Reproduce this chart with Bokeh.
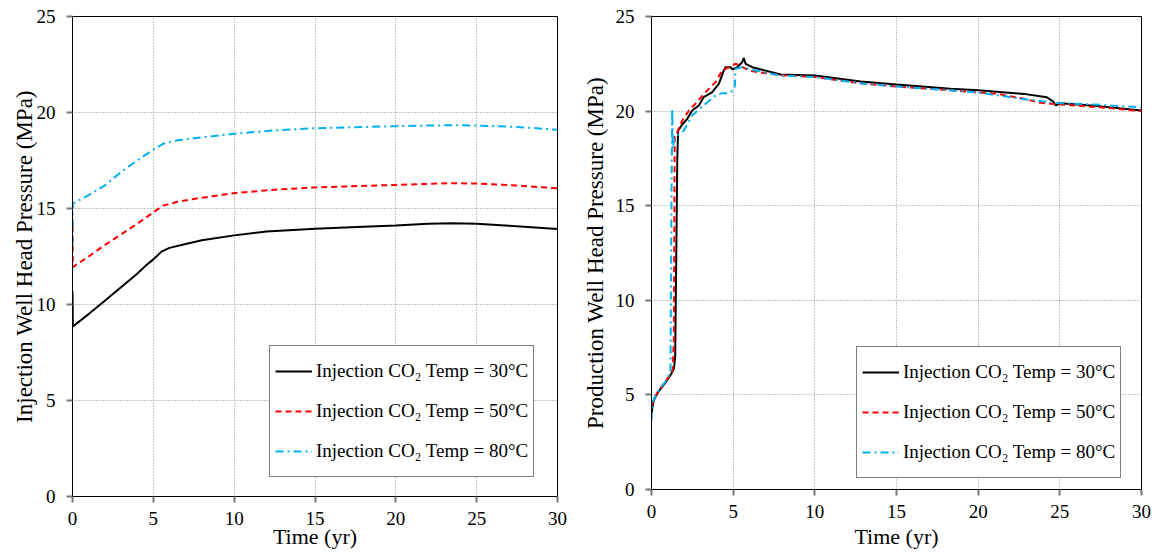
from bokeh.plotting import figure
from bokeh.layouts import row
from bokeh.models import Legend, LegendItem, FixedTicker
from bokeh.embed import file_html
from bokeh.resources import INLINE

# ---------------- data ----------------
labels = ["Injection CO₂ Temp = 30°C", "Injection CO₂ Temp = 50°C", "Injection CO₂ Temp = 80°C"]

# Injection well head pressure (left)
inj_t30 = [0, 0.02, 1, 2, 3, 4, 4.5, 5, 5.5, 6, 7, 8, 10, 12, 15, 18, 20, 22, 23.5, 25, 27, 30]
inj_p30 = [10.7, 8.85, 9.5, 10.2, 10.9, 11.6, 12.0, 12.35, 12.75, 12.95, 13.15, 13.35, 13.6, 13.8, 13.95,
           14.05, 14.12, 14.2, 14.23, 14.2, 14.1, 13.93]
inj_t50 = [0, 0.02, 1, 2, 3, 4, 5, 5.6, 6.5, 7.5, 10, 12.5, 15, 20, 23.5, 25, 27.5, 30]
inj_p50 = [14.1, 11.95, 12.5, 13.1, 13.65, 14.2, 14.8, 15.15, 15.35, 15.5, 15.8, 15.98, 16.1, 16.23, 16.32,
           16.3, 16.2, 16.05]
inj_t80 = [0, 0.02, 1, 2, 3, 4, 5, 5.6, 6.5, 7.5, 10, 12.5, 15, 20, 23.5, 25, 27.5, 30]
inj_p80 = [13.1, 15.25, 15.7, 16.2, 16.9, 17.5, 18.06, 18.37, 18.55, 18.66, 18.89, 19.07, 19.18, 19.29, 19.34,
           19.32, 19.25, 19.1]

# Production well head pressure (right)
prd_t30 = [0, 0.05, 0.15, 0.45, 0.85, 1.2, 1.37, 1.45, 1.58, 1.63, 1.88, 2.19, 2.49, 2.9, 3.2, 3.72, 4.12,
           4.43, 4.53, 4.84, 4.98, 5.25, 5.55, 5.65, 5.76, 6.17, 7.9, 10.0, 12.8, 15.0, 18.3, 20.0, 22.8,
           24.2, 24.6, 24.75, 25.05, 27.5, 30]
prd_p30 = [4.0, 4.3, 4.75, 5.2, 5.65, 6.1, 6.38, 7.0, 17.5, 18.97, 19.29, 19.59, 20.03, 20.3, 20.74, 21.0,
           21.44, 22.15, 22.32, 22.32, 22.2, 22.32, 22.58, 22.81, 22.5, 22.32, 21.93, 21.88, 21.56, 21.4,
           21.18, 21.1, 20.91, 20.73, 20.5, 20.3, 20.42, 20.25, 20.03]
prd_t50 = [0, 0.05, 0.15, 0.45, 0.85, 1.2, 1.3, 1.37, 1.42, 1.57, 1.88, 2.29, 2.69, 3.31, 3.92, 4.33, 4.74,
           5.14, 5.3, 5.76, 6.2, 7.9, 10.0, 12.8, 15.0, 18.3, 21.2, 22.8, 23.8, 25.05, 27.5, 30]
prd_p50 = [4.4, 4.6, 4.8, 5.25, 5.7, 6.15, 6.35, 8.0, 18.66, 18.89, 19.5, 20.03, 20.39, 21.0, 21.53, 22.15,
           22.32, 22.5, 22.45, 22.24, 22.1, 21.9, 21.8, 21.47, 21.3, 21.1, 20.91, 20.65, 20.44, 20.35, 20.2,
           20.0]
prd_t80 = [0, 0.05, 0.15, 0.45, 0.85, 1.1, 1.16, 1.22, 1.27, 1.3, 1.4, 1.98, 2.49, 3.31, 3.92, 4.33, 4.74,
           4.98, 5.1, 5.15, 5.55, 6.37, 7.9, 10.0, 12.8, 15.0, 18.3, 20.0, 22.0, 22.6, 25.0, 27.5, 30]
prd_p80 = [3.65, 4.4, 4.8, 5.25, 5.7, 6.1, 6.2, 15.0, 20.12, 18.0, 18.6, 18.97, 19.77, 20.39, 20.82, 20.95,
           20.95, 21.09, 21.3, 22.24, 22.32, 22.15, 21.88, 21.8, 21.47, 21.3, 21.1, 20.98, 20.73, 20.65,
           20.42, 20.33, 20.2]

x_ticks = [0, 5, 10, 15, 20, 25, 30]
y_ticks = [0, 5, 10, 15, 20, 25]

FONT = "Liberation Serif"
styles = [dict(color="black", line_width=2, line_dash="solid"),
          dict(color="#FF0000", line_width=2, line_dash="6 4"),
          dict(color="#00B0F0", line_width=2, line_dash="8 4 2 4")]


def make_fig(ylabel, series, fw, fh, mbl, mbr, mbb, ylab_standoff, xlab_standoff, leg_loc):
    p = figure(frame_width=fw, frame_height=fh, x_range=(0, 30), y_range=(0, 25),
               output_backend="svg", toolbar_location=None,
               min_border_left=mbl, min_border_right=mbr, min_border_top=16, min_border_bottom=mbb)
    p.outline_line_color = "black"
    p.outline_line_width = 1
    p.background_fill_color = "white"
    p.border_fill_color = "white"
    for ax in (p.xaxis[0], p.yaxis[0]):
        ax.axis_line_color = "black"
        ax.axis_line_width = 1
        ax.major_tick_in = 0
        ax.major_tick_out = 6
        ax.major_tick_line_color = "#777777"
        ax.major_tick_line_width = 2
        ax.minor_tick_line_color = None
        ax.major_label_text_font = FONT
        ax.major_label_text_font_size = "19px"
        ax.major_label_text_color = "black"
        ax.axis_label_text_font = FONT
        ax.axis_label_text_font_style = "normal"
        ax.axis_label_text_color = "black"
    p.xaxis.axis_label_text_font_size = "22px"
    p.yaxis.axis_label_text_font_size = "23px"
    p.xaxis.major_label_standoff = 9
    p.yaxis.major_label_standoff = 11
    p.xaxis.ticker = FixedTicker(ticks=x_ticks)
    p.yaxis.ticker = FixedTicker(ticks=y_ticks)
    p.xaxis.axis_label = "Time (yr)"
    p.yaxis.axis_label = ylabel
    p.yaxis.axis_label_standoff = ylab_standoff
    p.xaxis.axis_label_standoff = xlab_standoff
    p.grid.grid_line_color = "#8c8c8c"
    p.grid.grid_line_dash = "1 2"
    p.grid.grid_line_width = 1

    items = []
    for (t, v), st, lab in zip(series, styles, labels):
        r = p.line(t, v, line_color=st["color"], line_width=st["line_width"], line_dash=st["line_dash"])
        items.append(LegendItem(label=lab, renderers=[r]))
    leg = Legend(items=items, location=leg_loc)
    leg.label_text_font = FONT
    leg.label_text_font_size = "19px"
    leg.label_text_color = "black"
    leg.border_line_color = "black"
    leg.border_line_width = 1.5
    leg.background_fill_alpha = 1
    leg.padding = 5
    leg.spacing = 0
    leg.glyph_width = 37
    leg.glyph_height = 40
    leg.label_height = 40
    leg.label_standoff = 4
    leg.margin = 0
    p.add_layout(leg, "center")
    return p


left = make_fig("Injection Well Head Pressure (MPa)",
                [(inj_t30, inj_p30), (inj_t50, inj_p50), (inj_t80, inj_p80)],
                485, 480, 72, 22, 48, -3, -4, (197, 19))
right = make_fig("Production Well Head Pressure (MPa)",
                 [(prd_t30, prd_p30), (prd_t50, prd_p50), (prd_t80, prd_p80)],
                 490, 473, 70, 14, 55, 5, 3, (205, 11))

layout = row(left, right)
open("out.html", "w").write(file_html(layout, INLINE))
